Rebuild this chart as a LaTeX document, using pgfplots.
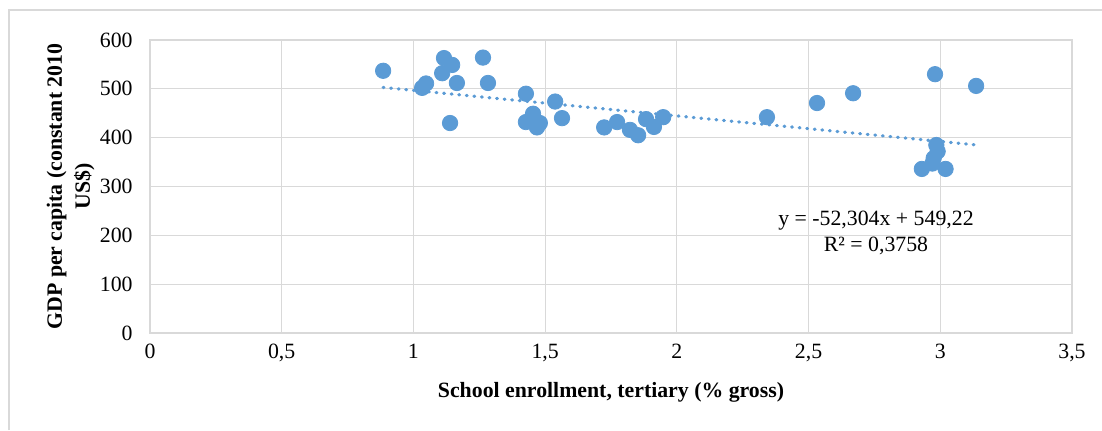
\documentclass[border=0pt]{standalone}
\usepackage{fontspec}
\setmainfont{Liberation Serif}
\usepackage{pgfplots}
\pgfplotsset{compat=1.18}
\definecolor{pt}{HTML}{5B9BD5}
\definecolor{gr}{HTML}{D9D9D9}
\begin{document}
\fontsize{10.9}{13}\selectfont
\begin{tikzpicture}
\path[use as bounding box] (0,0) rectangle (551pt,215pt);
\draw[gr, line width=0.8pt] (4.5pt,0) -- (4.5pt,210pt) -- (551pt,210pt);
\begin{axis}[at={(75pt,48.5pt)}, anchor=south west, scale only axis,
  width=461pt, height=146.5pt,
  xmin=0, xmax=3.5, ymin=0, ymax=600,
  xtick={0,0.5,1,1.5,2,2.5,3,3.5}, ytick={0,100,200,300,400,500,600},
  grid=major, grid style={gr, line width=0.6pt},
  axis line style={gr, line width=0.6pt},
  major tick length=0pt,
  /pgf/number format/assume math mode=true, /pgf/number format/use comma,
  xticklabel style={anchor=base, yshift=-12.5pt, inner sep=0pt, font=\fontsize{10.9}{13}\selectfont},
  yticklabel style={anchor=east, xshift=-8.5pt, inner sep=0pt, font=\fontsize{10.9}{13}\selectfont},
  xlabel={School enrollment, tertiary (\% gross)},
  xlabel style={at={(axis description cs:0.5,-0.201)}, anchor=center, font=\bfseries\fontsize{10.9}{13}\selectfont},
  ylabel={GDP per capita (constant 2010\\US\$)},
  ylabel style={at={(axis description cs:-0.086,0.5)}, anchor=center, align=center, font=\bfseries\fontsize{10.9}{14}\selectfont},
  clip=false,
]
\addplot[only marks, mark=*, mark size=3.85pt, mark options={draw=pt, fill=pt}] coordinates {
(0.885,537) (1.033,502) (1.048,511) (1.116,563) (1.147,549) (1.109,532)
(1.165,512) (1.139,430) (1.264,564) (1.283,512) (1.427,490) (1.454,449)
(1.427,432) (1.469,421) (1.48,430) (1.538,474) (1.564,440) (1.724,421)
(1.773,432) (1.822,416) (1.853,405) (1.883,438) (1.913,422) (1.948,442)
(2.342,442) (2.532,471) (2.669,491) (2.980,530) (3.136,506) (2.985,385)
(2.99,372) (2.975,358) (2.97,347) (2.93,336) (3.02,336)
};
\addplot[pt, line width=1.6pt, line cap=round, dash pattern=on 0.4pt off 3.4pt] coordinates {
(0.885,502.93) (3.136,385.19)
};
\node[align=center, font=\fontsize{10.9}{13}\selectfont] at (axis cs:2.756,205) {y = -52,304x + 549,22\\R² = 0,3758};
\end{axis}
\end{tikzpicture}
\end{document}
